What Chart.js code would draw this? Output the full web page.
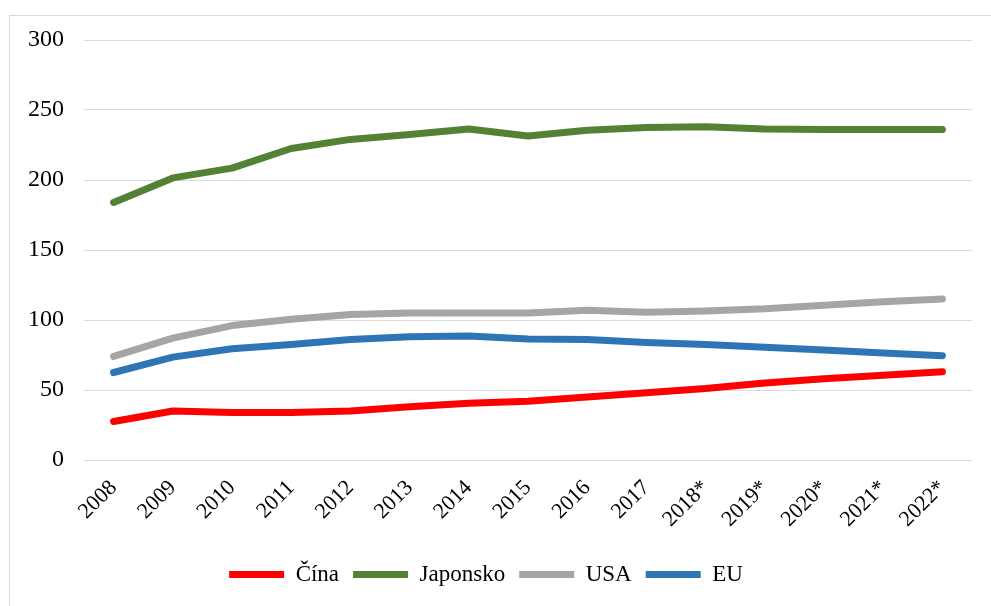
<!DOCTYPE html>
<html>
<head>
<meta charset="utf-8">
<script src="https://cdn.jsdelivr.net/npm/chart.js@4.4.0/dist/chart.umd.min.js"></script>
<style>
    html, body { margin: 0; padding: 0; background: #fff; }
    #wrap { position: relative; width: 991px; height: 606px; }
    #frame {
        position: absolute; left: 9px; top: 15px; right: -5px; bottom: -5px;
        border-left: 1px solid #d9d9d9; border-top: 1px solid #d9d9d9;
        pointer-events: none;
    }
</style>
</head>
<body>
<div id="wrap">
    <canvas id="chart" width="991" height="606"></canvas>
    <div id="frame"></div>
</div>
<script>
const years = ['2008', '2009', '2010', '2011', '2012', '2013', '2014', '2015',
    '2016', '2017', '2018*', '2019*', '2020*', '2021*', '2022*'];

const cina = [27.5, 35, 34, 34, 35, 38, 40.5, 42, 45, 48, 51, 55, 58, 60.5, 63];
const japonsko = [184, 201.5, 208.5, 222.5, 229, 232.5, 236.5, 231.5, 235.5, 237.5, 238, 236.5, 236, 236, 236];
const usa = [74, 87, 96, 100.5, 104, 105, 105, 105, 107, 105.5, 106.5, 108, 110.5, 113, 115];
const eu = [62.5, 73.5, 79.5, 82.5, 86, 88, 88.5, 86.5, 86, 84, 82.5, 80.5, 78.5, 76.5, 74.5];

const yTicks = [0, 50, 100, 150, 200, 250, 300];

const font = 'Liberation Serif, "Times New Roman", serif';

function series(label, data, color) {
    return {
        label: label,
        data: data,
        borderColor: color,
        backgroundColor: color,
        borderWidth: 7,
        borderCapStyle: 'round',
        borderJoinStyle: 'round',
        pointRadius: 0,
        pointStyle: 'line',
        tension: 0,
        fill: false,
    };
}

new Chart(document.getElementById('chart'), {
    type: 'line',
    data: {
        labels: years,
        datasets: [
            series('Čína', cina, '#ff0000'),
            series('Japonsko', japonsko, '#548235'),
            series('USA', usa, '#a5a5a5'),
            series('EU', eu, '#2e75b6'),
        ]
    },
    options: {
        responsive: false,
        animation: false,
        layout: { padding: { left: 0, right: 19, top: 40, bottom: 10 } },
        scales: {
            x: {
                offset: true,
                afterFit: axis => { axis.height = 89; },
                grid: { display: false },
                border: { display: false },
                ticks: {
                    color: '#000',
                    font: { family: font, size: 22 },
                    minRotation: 45,
                    maxRotation: 45,
                    padding: 7,
                },
            },
            y: {
                min: 0,
                max: 300,
                afterBuildTicks: axis => { axis.ticks = yTicks.map(v => ({ value: v })); },
                afterFit: axis => { axis.width = 84; },
                grid: { color: '#d9d9d9', lineWidth: 1, drawTicks: false },
                border: { display: false },
                ticks: {
                    color: '#000',
                    font: { family: font, size: 24 },
                    padding: 20,
                },
            }
        },
        plugins: {
            legend: {
                position: 'bottom',
                labels: {
                    color: '#000',
                    font: { family: font, size: 23 },
                    usePointStyle: true,
                    pointStyleWidth: 55,
                    padding: 14,
                },
            },
            tooltip: { enabled: false },
        }
    }
});
</script>
</body>
</html>
